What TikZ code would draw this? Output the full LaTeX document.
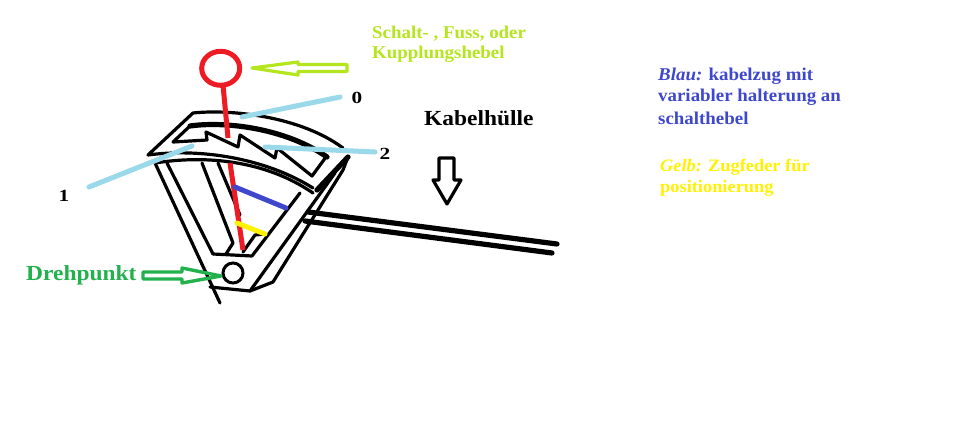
\documentclass[tikz,border=0pt]{standalone}
\usepackage{fontspec}
\setmainfont{Liberation Serif}
\newfontfamily\widefont[FakeStretch=1.05]{Liberation Serif}
\newfontfamily\widerfont[FakeStretch=1.09]{Liberation Serif}
\newfontfamily\numfont[FakeStretch=1.25]{Liberation Serif}
\definecolor{lime}{HTML}{B5E61D}
\definecolor{grn}{HTML}{22B14C}
\definecolor{sky}{HTML}{99D9EA}
\definecolor{ind}{HTML}{3F48CC}
\definecolor{rd}{HTML}{ED1C24}
\definecolor{yel}{HTML}{FFF200}
\tikzset{
 ln/.style={line width=3.2pt,black,line join=round,line cap=round},
 thick ln/.style={line width=5.2pt,black,line join=round,line cap=round},
 pointer/.style={line width=5pt,sky,line cap=round},
 txt/.style={font=\widefont\bfseries\fontsize{18}{21}\selectfont,anchor=west,inner sep=0pt,align=left},
 num/.style={font=\numfont\bfseries\fontsize{17}{20}\selectfont,inner sep=0pt},
}
\begin{document}
\begin{tikzpicture}[x=1pt,y=-1pt]
\useasboundingbox[fill=white] (0,0) rectangle (954,436);
% named anchors
\coordinate (p0a) at (242,117); \coordinate (p0b) at (340,97);
\coordinate (p1a) at (192,146); \coordinate (p1b) at (89,187);
\coordinate (p2a) at (265,147); \coordinate (p2b) at (375,152);
% frame
\draw[ln] (148,155) -- (193,113) .. controls (230,109) and (300,116) .. (343,148);
\draw[ln] (148,155) .. controls (200,148) and (265,158) .. (313,188);
\draw[ln] (155,163) .. controls (205,155) and (265,160) .. (313,193);
\draw[thick ln] (190,126) .. controls (225,121) and (285,128) .. (327,157);
\draw[ln] (190,126) -- (173,142) -- (207,140) -- (206,132) -- (238,147) -- (240,135) -- (275,158) -- (277,148) -- (312,176) -- (326,157);
% arms
\draw[ln] (155,163) -- (220,303);
\draw[ln] (167,163) -- (213,254);
\draw[ln] (202,163) -- (233,243) -- (226,254);
\draw[ln] (218,163) -- (240,215);
\draw[ln] (213,254) -- (252,256) -- (300,193);
\draw[ln] (243,252) -- (255,235) -- (265,234);
\draw[ln] (210,287) -- (250,291) -- (335,173);
\draw[thick ln] (348,157) -- (317,190);
\draw[ln] (250,291) -- (273,282) -- (343,170) -- (348,157);
% cable
\draw[thick ln] (308,212) -- (557,244);
\draw[thick ln] (305,221) -- (552,253);
% lever
\draw[line width=5pt,rd] (223,85) -- (228,138);
\draw[line width=5pt,rd] (230,163) -- (243,250);
\draw[line width=5pt,rd] (220.7,68.3) ellipse (19 and 17);
\draw[line width=5pt,ind,line cap=round] (235,187) -- (286,208);
\draw[line width=5pt,yel,line cap=round] (237,223) -- (265,234);
% pointers
\draw[pointer] (p0a) -- (p0b);
\draw[pointer] (p1a) -- (p1b);
\draw[pointer] (p2a) -- (p2b);
% pivot
\node[circle,draw=black,line width=3pt,minimum size=20pt,inner sep=0pt] (piv) at (233,273) {};
% arrows
\draw[line width=3.2pt,lime,line join=round] (252,68) -- (298,62) -- (298,64.5) -- (347,64.5) -- (347,71.5) -- (298,71.5) -- (298,75) -- cycle;
\draw[line width=3.4pt,grn,line join=round] (221,276) -- (182,268) -- (182,272) -- (143,272) -- (143,279) -- (182,279) -- (182,283) -- cycle;
\draw[line width=3.2pt,black,line join=round] (447,204) -- (433,180) -- (439,180) -- (439,158) -- (454,158) -- (454,180) -- (461,180) -- cycle;
% text
\node[txt,text=lime] (t1) at (372,33.5) {Schalt- , Fuss, oder};
\node[txt,text=lime] (t2) at (372,54.5) {Kupplungshebel};
\node[num] (n0) at (357,98) {0};
\node[num] (n1) at (64,196) {1};
\node[num] (n2) at (385,154) {2};
\node[txt,font=\widerfont\bfseries\fontsize{21.5}{24}\selectfont] (k) at (424,118) {Kabelhülle};
\node[txt,font=\widerfont\bfseries\fontsize{21.5}{24}\selectfont,text=grn] (d) at (26,275) {Drehpunkt};
\node[txt,text=ind] (b1) at (658,76.5) {\textit{Blau:} kabelzug mit};
\node[txt,text=ind] (b2) at (658,97.5) {variabler halterung an};
\node[txt,text=ind] (b3) at (658,118.5) {schalthebel};
\node[txt,text=yel,font=\widefont\bfseries\fontsize{17.5}{21}\selectfont] (g1) at (660,167.5) {\textit{Gelb:} Zugfeder für};
\node[txt,text=yel,font=\widefont\bfseries\fontsize{17.5}{21}\selectfont] (g2) at (660,188.5) {positionierung};
\end{tikzpicture}
\end{document}
